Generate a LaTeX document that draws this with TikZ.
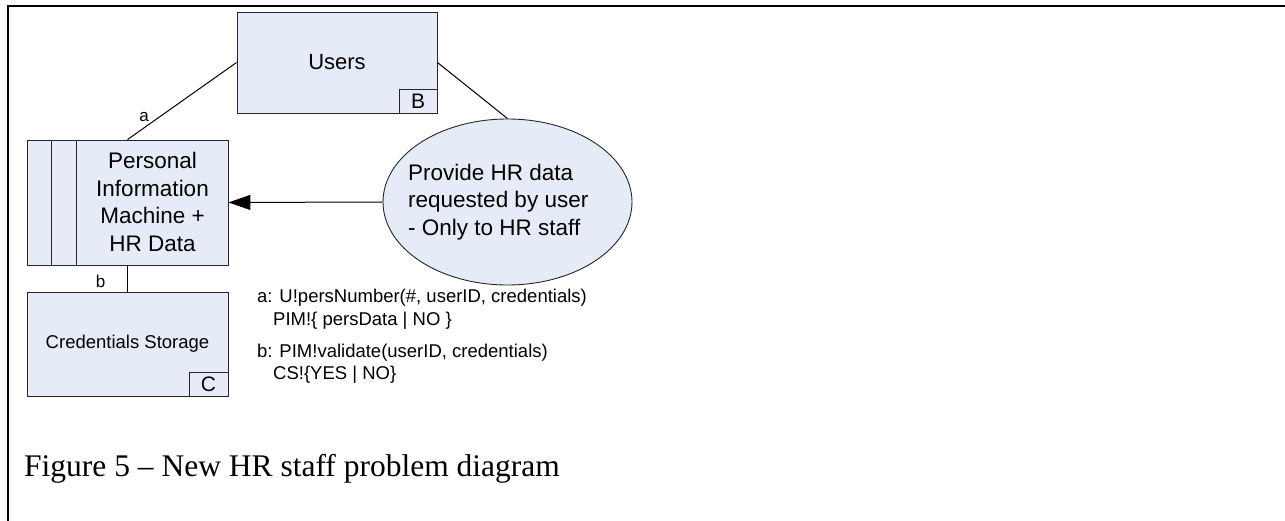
\documentclass[tikz,border=0pt]{standalone}
\usepackage{fontspec}
\setmainfont{Liberation Sans}
\newfontfamily\capfont{Liberation Serif}
\usetikzlibrary{shapes.geometric,arrows.meta}
\definecolor{boxfill}{RGB}{230,236,247}
\begin{document}
\begin{tikzpicture}[x=1pt,y=-1pt,
  box/.style={draw=black!85, fill=boxfill, line width=0.9pt, inner sep=0pt},
  tag/.style={draw=black!85, fill=boxfill, line width=0.9pt, inner sep=0pt, anchor=south east, minimum height=24pt, font=\fontsize{21}{24}\selectfont},
  conn/.style={draw=black, line width=1pt},
  big/.style={font=\fontsize{22.5}{27.5}\selectfont, align=center, inner sep=0pt},
  small/.style={font=\fontsize{18.5}{22}\selectfont, inner sep=0pt, anchor=base west},
  lbl/.style={font=\fontsize{17}{20}\selectfont, inner sep=0pt}]
\useasboundingbox (0,0) rectangle (1285,521);
\draw[line width=2pt] (1285,6) -- (8,6) -- (8,521);

% Users
\node[box, minimum width=200pt, minimum height=101pt, font=\fontsize{22}{26}\selectfont] (users) at (337,62.5) {Users};
\node[tag, minimum width=38pt] (ub) at (users.south east) {B};

% PIM
\node[box, minimum width=201pt, minimum height=125pt] (pim) at (127.5,202.5) {};
\draw[draw=black!85, line width=0.9pt] ([xshift=25pt]pim.north west) -- ([xshift=25pt]pim.south west);
\draw[draw=black!85, line width=0.9pt] ([xshift=50pt]pim.north west) -- ([xshift=50pt]pim.south west);
\node[big] (pimtext) at (152.5,202) {Personal\\Information\\Machine +\\HR Data};

% Credentials storage
\node[box, minimum width=201pt, minimum height=104pt, font=\fontsize{18.5}{22}\selectfont] (cs) at (127.5,344) {Credentials Storage};
\node[tag, minimum width=39pt] (cc) at (cs.south east) {C};

% Ellipse
\node[box, ellipse, minimum width=249pt, minimum height=166pt] (proc) at (507.5,202) {};
\node[big, align=left, anchor=west] (proctext) at (408,202) {Provide HR data\\requested by user\\- Only to HR staff};

% connectors
\draw[conn] (pim.north) -- (users.west);
\draw[conn] (users.east) -- (proc.north);
\draw[conn] (pim.south) -- (cs.north);
\draw[conn, -{Triangle[length=22pt,width=15pt]}] (proc.west) -- (pim.east);

\node[lbl] (la) at (144,117) {a};
\node[lbl] (lb) at (100.5,281) {b};

% annotations
\node[small] (a1) at (257,303) {a: U!persNumber(\#, userID, credentials)};
\node[small] (a2) at (273,325) {PIM!\{ persData | NO \}};
\node[small] (b1) at (257,357) {b: PIM!validate(userID, credentials)};
\node[small] (b2) at (273,379) {CS!\{YES | NO\}};

% caption
\node[font=\capfont\fontsize{31.5}{36}\selectfont, inner sep=0pt, anchor=base west] (cap) at (24,476) {Figure 5 – New HR staff problem diagram};
\end{tikzpicture}
\end{document}
